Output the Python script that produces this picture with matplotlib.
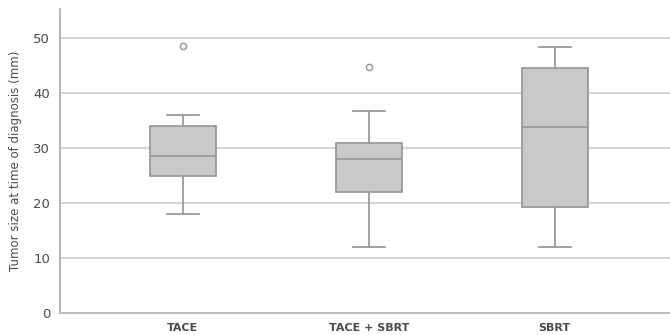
import matplotlib.pyplot as plt

# --- Data ---
groups = ["TACE", "TACE + SBRT", "SBRT"]
q1 = [25, 22, 19.3]
medians = [28.5, 28, 33.8]
q3 = [34, 31, 44.5]
whislo = [18, 12, 12]
whishi = [36, 36.7, 48.4]
fliers = [[48.6], [44.8], []]

GRID = "#d4d4d4"
EDGE = "#9a9a9a"
FILL = "#c9c9c9"
TEXT = "#4a4a4a"

stats = []
for i, g in enumerate(groups):
    stats.append({"label": g, "q1": q1[i], "med": medians[i], "q3": q3[i],
                  "whislo": whislo[i], "whishi": whishi[i], "fliers": fliers[i]})

fig = plt.figure(figsize=(6.7, 3.35), dpi=100)
ax = fig.add_axes([0.0896, 0.066, 0.9104, 0.907])

ax.bxp(stats, positions=range(len(groups)), widths=0.355, patch_artist=True,
       boxprops=dict(facecolor=FILL, edgecolor=EDGE, linewidth=1.3),
       medianprops=dict(color=EDGE, linewidth=1.3),
       whiskerprops=dict(color=EDGE, linewidth=1.3),
       capprops=dict(color=EDGE, linewidth=1.3),
       capwidths=0.17,
       flierprops=dict(marker="o", markersize=4.5, markerfacecolor="white",
                       markeredgecolor=EDGE, markeredgewidth=1.1))

ax.set_xlim(-0.66, 2.62)
ax.set_ylim(0, 55.3)
ax.set_yticks([0, 10, 20, 30, 40, 50])
ax.yaxis.grid(True, color=GRID, linewidth=1.5)
ax.set_axisbelow(True)

for s in ["top", "right"]:
    ax.spines[s].set_visible(False)
ax.spines["left"].set_color("#b0b0b0")
ax.spines["left"].set_linewidth(1.3)
ax.spines["bottom"].set_color("#bdbdbd")
ax.spines["bottom"].set_linewidth(1.5)

ax.tick_params(length=0, colors=TEXT, labelsize=9.5, pad=7)
ax.set_xticklabels(groups, fontsize=8, fontweight="semibold", color=TEXT)
ax.set_ylabel("Tumor size at time of diagnosis (mm)", fontsize=8.5, color=TEXT, labelpad=8)

fig.savefig("out.png", dpi=100)
